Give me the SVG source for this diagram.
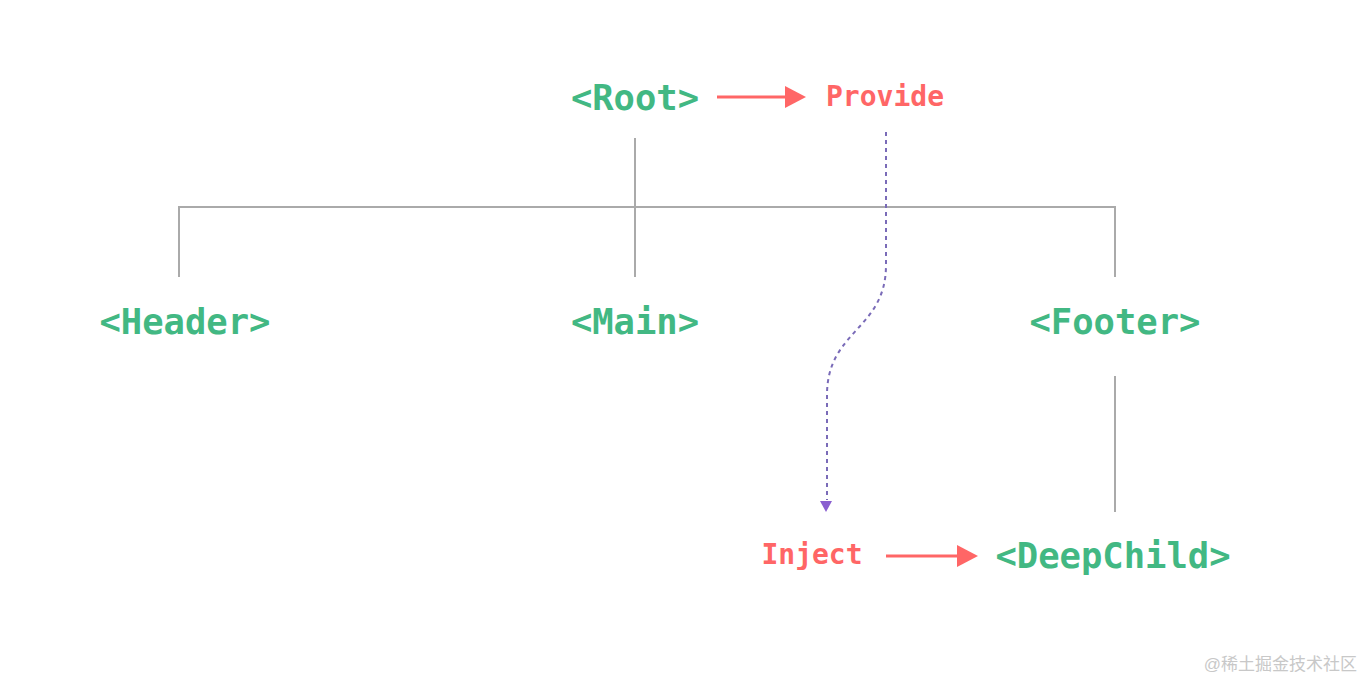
<svg xmlns="http://www.w3.org/2000/svg" width="1364" height="680" viewBox="0 0 1364 680">
<style>
.comp{font-family:"DejaVu Sans Mono","Liberation Mono",monospace;font-weight:bold;font-size:35.5px;fill:#42b883;text-anchor:middle}
.api{font-family:"DejaVu Sans Mono","Liberation Mono",monospace;font-weight:bold;font-size:28px;fill:#f66;text-anchor:middle}
.tree{stroke:#aaa;stroke-width:2;fill:none}
.red{stroke:#f66;stroke-width:3;fill:none}
.dot{stroke:#7a6bb8;stroke-width:2;fill:none;stroke-dasharray:4 4}
.wm{font-family:"Liberation Sans","Noto Sans CJK SC",sans-serif;font-size:17px;fill:#c8c8c8;text-anchor:end}
</style>
<rect width="1364" height="680" fill="#fff"/>
<g id="connectors">
<path class="tree" d="M635,138 V277 M179,277 V207 H1115 V277 M1115,376 V512"/>
<path class="red" d="M717,97 H786"/>
<path d="M785,86 L806,97 L785,108 Z" fill="#f66"/>
<path class="red" d="M886,556 H958"/>
<path d="M957,545 L978,556 L957,567 Z" fill="#f66"/>
<path class="dot" d="M886,132 V265 C886,330 827,330 827,395 V500"/>
<path d="M820,501 L832,501 L826,512 Z" fill="#8a5fd0"/>
</g>
<g id="root"><text class="comp" x="635" y="110">&lt;Root&gt;</text></g>
<g id="provide"><text class="api" x="885" y="106">Provide</text></g>
<g id="header"><text class="comp" x="185" y="334">&lt;Header&gt;</text></g>
<g id="main"><text class="comp" x="635" y="334">&lt;Main&gt;</text></g>
<g id="footer"><text class="comp" x="1115" y="334">&lt;Footer&gt;</text></g>
<g id="inject"><text class="api" x="812" y="564">Inject</text></g>
<g id="deepchild"><text class="comp" x="1113" y="568">&lt;DeepChild&gt;</text></g>
<text class="wm" x="1357" y="670">@稀土掘金技术社区</text>
</svg>
